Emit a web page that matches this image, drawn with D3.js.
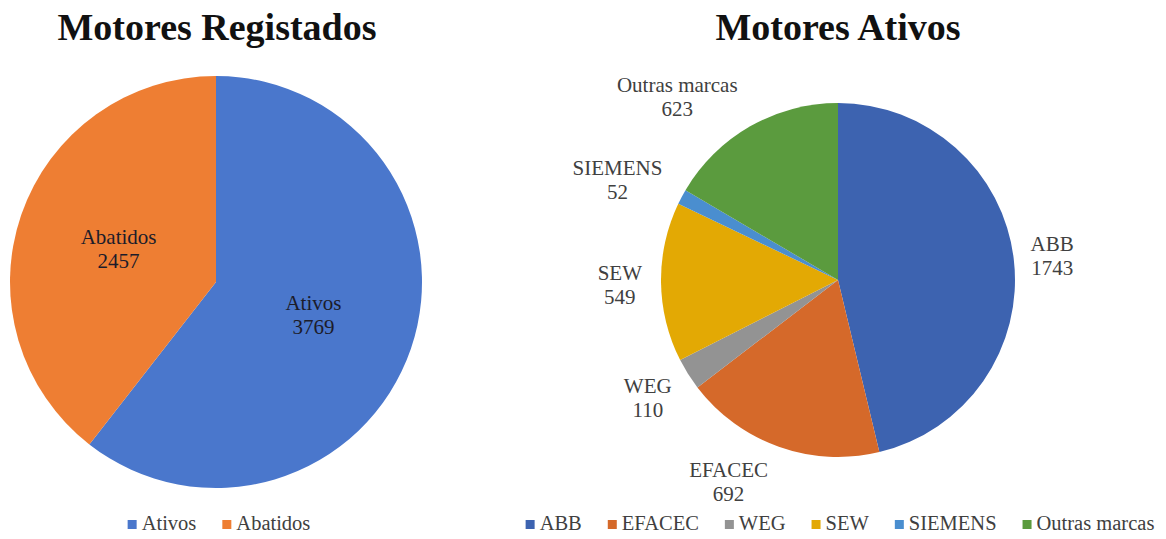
<!DOCTYPE html>
<html>
<head>
<meta charset="utf-8">
<script src="https://cdn.jsdelivr.net/npm/d3@7"></script>
<style>
  body { margin: 0; background: #fff; }
</style>
</head>
<body>
<script>
// dados - motores registados
var regCategorias = ["Ativos", "Abatidos"]
var regValores = [3769, 2457]
var regCores = ["#4A77CC", "#EE7E33"]

// dados - motores ativos por marca
var marcas = ["ABB", "EFACEC", "WEG", "SEW", "SIEMENS", "Outras marcas"]
var marcaValores = [1743, 692, 110, 549, 52, 623]
var marcaCores = ["#3D63B0", "#D5692A", "#939393", "#E3A904", "#4A8ECF", "#5B9B3E"]

// pequenos ajustes das etiquetas (tipo Excel "best fit")
var ajusteEtiq = [[5, 0], [-33, 6], [-10, 7], [-7, 2], [-14, -2], [-37, -2]]

var W = 1166, H = 539
var FONTE = "'Liberation Serif', 'Times New Roman', serif"

var svg = d3.select("body").append("svg")
    .attr("width", W)
    .attr("height", H)
    .style("font-family", FONTE)

var pie = d3.pie().sort(null).value(d => d.v)

function desenhaPie(cx, cy, R, cats, vals, cores) {
  var dados = cats.map((c, i) => ({ c: c, v: vals[i], cor: cores[i] }))
  var arcos = pie(dados)
  var arc = d3.arc().innerRadius(0).outerRadius(R)
  var g = svg.append("g").attr("transform", "translate(" + cx + "," + cy + ")")
  g.selectAll("path")
    .data(arcos)
    .enter()
    .append("path")
    .attr("d", arc)
    .attr("fill", d => d.data.cor)
  return { g: g, arcos: arcos, arc: arc }
}

function legenda(cxCentro, y, cats, cores) {
  var g = svg.append("g")
  var x = 0
  cats.forEach((c, i) => {
    g.append("rect")
      .attr("x", x).attr("y", y - 10)
      .attr("width", 9).attr("height", 9)
      .attr("fill", cores[i])
    var t = g.append("text")
      .attr("x", x + 14).attr("y", y)
      .style("font-family", FONTE)
      .style("font-size", "20.5px")
      .attr("fill", "#404040")
      .text(c)
    x += 14 + t.node().getComputedTextLength() + 26
  })
  x -= 26
  g.attr("transform", "translate(" + (cxCentro - x / 2) + ",0)")
}

function titulo(x, txt) {
  svg.append("text")
    .attr("x", x).attr("y", 40)
    .attr("text-anchor", "middle")
    .style("font-family", FONTE)
    .style("font-size", "38px")
    .style("font-weight", "bold")
    .attr("fill", "#111")
    .text(txt)
}

function etiqueta(g, x, y, nome, valor, cor) {
  var t = g.append("text")
    .attr("text-anchor", "middle")
    .style("font-family", FONTE)
    .style("font-size", "21px")
    .attr("fill", cor)
  t.append("tspan").attr("x", x).attr("y", y - 5).text(nome)
  t.append("tspan").attr("x", x).attr("y", y + 19).text(valor)
}

// ---- grafico 1
titulo(217, "Motores Registados")
var p1 = desenhaPie(216, 282, 206, regCategorias, regValores, regCores)
p1.arcos.forEach(a => {
  var c = p1.arc.centroid(a)
  etiqueta(p1.g, c[0], c[1], a.data.c, a.data.v, "#1c1c2a")
})
legenda(219, 530, regCategorias, regCores)

// ---- grafico 2
titulo(838, "Motores Ativos")
var R2 = 177
var p2 = desenhaPie(838, 280, R2, marcas, marcaValores, marcaCores)
p2.arcos.forEach((a, i) => {
  var ang = (a.startAngle + a.endAngle) / 2
  var dx = Math.sin(ang), dy = -Math.cos(ang)
  var tmp = p2.g.append("text").style("font-family", FONTE).style("font-size", "21px").text(a.data.c)
  var w = Math.max(tmp.node().getComputedTextLength(), 40)
  tmp.remove()
  var r = R2 + 12
  var x = dx * r + dx * w / 2 + ajusteEtiq[i][0]
  var y = dy * r + dy * 19 + ajusteEtiq[i][1]
  etiqueta(p2.g, x, y, a.data.c, a.data.v, "#404040")
})
legenda(840, 530, marcas, marcaCores)
</script>
</body>
</html>
